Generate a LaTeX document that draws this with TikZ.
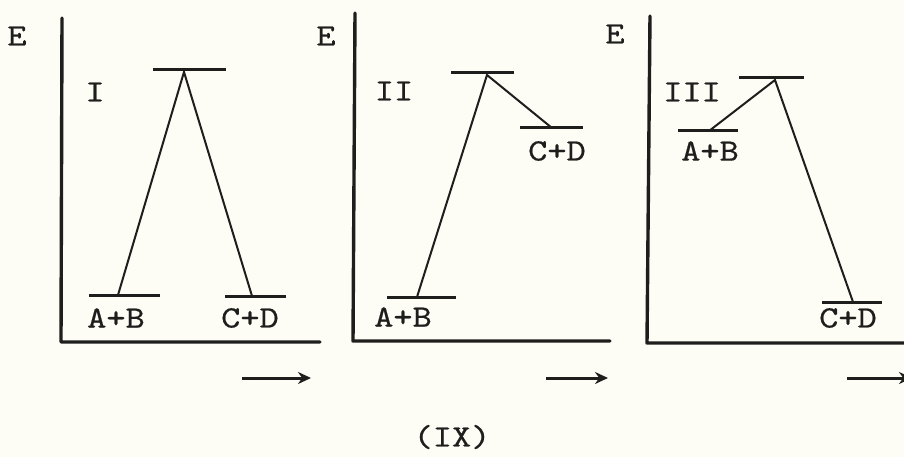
\documentclass[tikz,border=0pt]{standalone}
\usepackage{fontspec}
\newfontfamily\twfont{lmmono10-regular.otf}[FakeStretch=1.18,FakeBold=0.6]
\usetikzlibrary{arrows.meta}
\definecolor{paper}{RGB}{253,253,246}
\definecolor{ink}{RGB}{30,30,28}
\begin{document}
\begin{tikzpicture}[x=1pt,y=-1pt,
  axis/.style={draw=ink,line width=3.4pt,line cap=round,line join=round},
  level/.style={draw=ink,line width=3pt},
  path/.style={draw=ink,line width=2pt},
  lab/.style={font=\twfont\fontsize{31}{31}\selectfont,text=ink,inner sep=0pt},
  dirarrow/.style={draw=ink,line width=3pt,-{Stealth[length=13pt,width=12pt]}}]
\fill[paper] (0,0) rectangle (904,457);
\useasboundingbox (0,0) rectangle (904,457);

% ---------- Panel I ----------
\node[lab] (E1) at (17,36) {E};
\coordinate (a1t) at (62,18);
\coordinate (a1o) at (61,342);
\coordinate (a1r) at (320,342);
\draw[axis] (a1t) -- (a1o) -- (a1r);
\node[lab] (L1) at (95,92) {I};
\coordinate (t1l) at (153,70); \coordinate (t1r) at (226,70); \coordinate (t1p) at (184,72);
\coordinate (r1l) at (89,295); \coordinate (r1r) at (160,295); \coordinate (r1p) at (118,295);
\coordinate (p1l) at (225,296); \coordinate (p1r) at (286,296); \coordinate (p1p) at (252,296);
\draw[level] (t1l) -- (t1r);
\draw[level] (r1l) -- (r1r);
\draw[level] (p1l) -- (p1r);
\draw[path] (r1p) -- (t1p) -- (p1p);
\node[lab] (AB1) at (116,318) {A+B};
\node[lab] (CD1) at (250,318) {C+D};
\coordinate (ar1s) at (242,378); \coordinate (ar1e) at (311,378);
\draw[dirarrow] (ar1s) -- (ar1e);

% ---------- Panel II ----------
\node[lab] (E2) at (326,36) {E};
\coordinate (a2t) at (355,13);
\coordinate (a2o) at (353,341);
\coordinate (a2r) at (610,341);
\draw[axis] (a2t) -- (a2o) -- (a2r);
\node[lab] (L2) at (394,91) {II};
\coordinate (t2l) at (451,73); \coordinate (t2r) at (514,73); \coordinate (t2p) at (487,75);
\coordinate (r2l) at (387,297); \coordinate (r2r) at (456,297); \coordinate (r2p) at (417,297);
\coordinate (p2l) at (520,128); \coordinate (p2r) at (583,128); \coordinate (p2p) at (552,128);
\draw[level] (t2l) -- (t2r);
\draw[level] (r2l) -- (r2r);
\draw[level] (p2l) -- (p2r);
\draw[path] (r2p) -- (t2p) -- (p2p);
\node[lab] (AB2) at (403,317) {A+B};
\node[lab] (CD2) at (557,151) {C+D};
\coordinate (ar2s) at (546,378); \coordinate (ar2e) at (608,378);
\draw[dirarrow] (ar2s) -- (ar2e);

% ---------- Panel III ----------
\node[lab] (E3) at (615,34) {E};
\coordinate (a3t) at (650,16);
\coordinate (a3o) at (647,343);
\coordinate (a3r) at (910,343);
\draw[axis] (a3t) -- (a3o) -- (a3r);
\node[lab] (L3) at (692,92) {III};
\coordinate (t3l) at (739,78); \coordinate (t3r) at (804,78); \coordinate (t3p) at (775,80);
\coordinate (r3l) at (678,131); \coordinate (r3r) at (738,131); \coordinate (r3p) at (709,131);
\coordinate (p3l) at (822,302); \coordinate (p3r) at (882,302); \coordinate (p3p) at (853,302);
\draw[level] (t3l) -- (t3r);
\draw[level] (r3l) -- (r3r);
\draw[level] (p3l) -- (p3r);
\draw[path] (r3p) -- (t3p) -- (p3p);
\node[lab] (AB3) at (710,151) {A+B};
\node[lab] (CD3) at (848,318) {C+D};
\coordinate (ar3s) at (847,378); \coordinate (ar3e) at (912,378);
\draw[dirarrow] (ar3s) -- (ar3e);

% ---------- caption ----------
\node[lab] (cap) at (452,437) {(IX)};
\end{tikzpicture}
\end{document}
